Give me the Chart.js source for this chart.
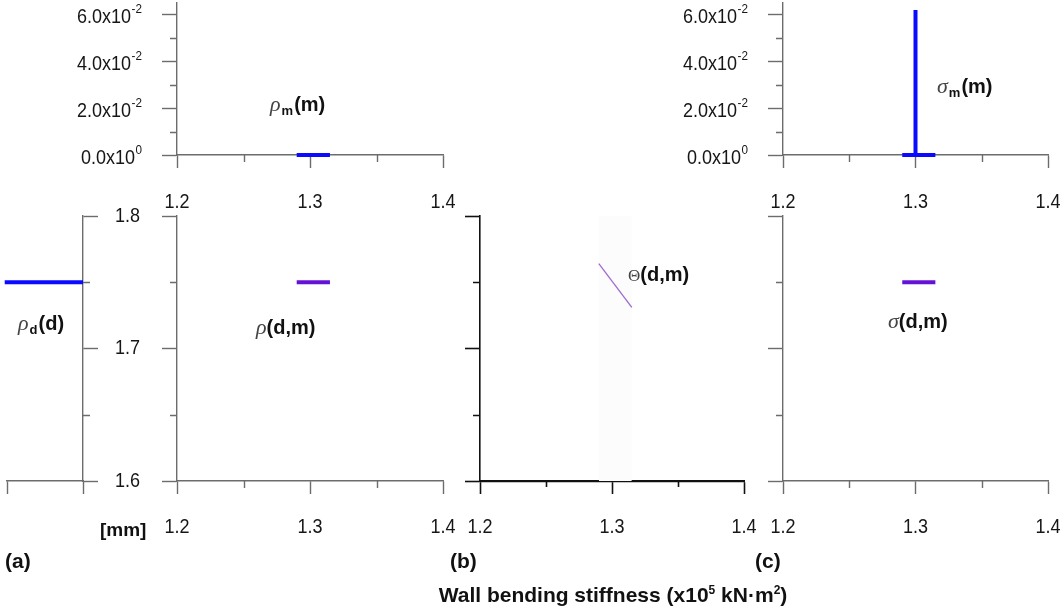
<!DOCTYPE html>
<html>
<head>
<meta charset="utf-8">
<script src="https://cdn.jsdelivr.net/npm/chart.js@4.4.1/dist/chart.umd.min.js"></script>
<style>
  html, body { margin: 0; padding: 0; background: #fff; }
  #fig { position: relative; width: 1064px; height: 616px; overflow: hidden;
         font-family: "Liberation Sans", Arial, sans-serif; }
  #fig canvas { position: absolute; left: 0; top: 0; }
  .lbl { position: absolute; white-space: nowrap; font-weight: bold; font-size: 20px;
         color: #111; line-height: 1; transform: translateY(-50%); }
  .gr  { font-family: "Liberation Serif", serif; font-style: italic; font-weight: normal;
         color: #444; font-size: 22px; }
  .sub { font-size: 13px; position: relative; top: 4px; margin: 0 1px; }
  .sup { font-size: 12px; position: relative; top: -8px; }
  #title { position: absolute; left: 370px; width: 486px; text-align: center; top: 594px;
           transform: translateY(-50%); font-weight: bold; font-size: 21px; color: #111; line-height: 1; }
</style>
</head>
<body>
<div id="fig">
  <div class="lbl" style="left:270px;top:104px"><span class="gr">ρ</span><span class="sub">m</span>(m)</div>
  <div class="lbl" style="left:937px;top:86px"><span class="gr">σ</span><span class="sub">m</span>(m)</div>
  <div class="lbl" style="left:18px;top:323px"><span class="gr">ρ</span><span class="sub">d</span>(d)</div>
  <div class="lbl" style="left:256px;top:327px"><span class="gr">ρ</span>(d,m)</div>
  <div class="lbl" style="left:628px;top:274px"><span class="gr" style="font-style:normal;font-size:17px">Θ</span>(d,m)</div>
  <div class="lbl" style="left:888px;top:321px"><span class="gr">σ</span>(d,m)</div>
  <div class="lbl" style="left:100px;top:529px;font-size:19px">[mm]</div>
  <div class="lbl" style="left:5px;top:560px;font-size:21px">(a)</div>
  <div class="lbl" style="left:450px;top:560px;font-size:21px">(b)</div>
  <div class="lbl" style="left:755px;top:560px;font-size:21px">(c)</div>
  <div id="title">Wall bending stiffness (x10<span class="sup">5</span> kN·m<span class="sup">2</span>)</div>
</div>
<script>
// ---------- axis ranges and ticks ----------
const mRange = [1.2, 1.4];                 // wall bending stiffness (x10^5 kN·m²)
const mTicks = [1.2, 1.3, 1.4];
const mMinorTicks = [1.25, 1.35];
const mTickLabels = ['1.2', '1.3', '1.4'];

const dRange = [1.6, 1.8];                 // thickness [mm]
const dTicks = [1.6, 1.7, 1.8];
const dMinorTicks = [1.65, 1.75];
const dTickLabels = ['1.6', '1.7', '1.8'];

const densRange = [0, 0.065];              // marginal density of m
const densTicks = [0, 0.02, 0.04, 0.06];
const densMinorTicks = [0.01, 0.03, 0.05];
const densTickMantissa = ['0.0', '2.0', '4.0', '6.0'];
const densTickExponent = ['0', '-2', '-2', '-2'];

const rhoDRange = [0, 1];                  // marginal density of d (drawn leftwards)
const rhoDTicks = [0, 1];

// ---------- series ----------
// rho_m(m)
const rhoM_m = [1.29, 1.315];
const rhoM_val = [0, 0];
// sigma_m(m)
const sigmaM_m = [1.29, 1.3, 1.3, 1.3, 1.315];
const sigmaM_val = [0, 0, 0.062, 0, 0];
// rho_d(d)
const rhoD_val = [0, 1.03];
const rhoD_d = [1.75, 1.75];
// rho(d,m)
const rho_m = [1.29, 1.315];
const rho_d = [1.75, 1.75];
// Theta(d,m) and its support band
const theta_m = [1.29, 1.315];
const theta_d = [1.764, 1.731];
const thetaBand_m = [1.29, 1.315];
const thetaBand_d = [1.8, 1.8];
// sigma(d,m)
const sigma_m = [1.29, 1.315];
const sigma_d = [1.75, 1.75];

// ---------- drawing ----------
const W = 1064, H = 616;
const GRAY = '#6c6c6c';
const BLUE = '#0a0aff';
const PURPLE = '#6412d8';
const LIGHT_PURPLE = '#a06ad0';
const TEXT = '#161616';
const FONT = '"Liberation Sans", Arial, sans-serif';
const SQUEEZE = 0.9;   // tick numbers are set slightly condensed

const pts = (xs, ys) => xs.map((x, i) => ({ x, y: ys[i] }));

function squeezedText(ctx, t, x, y, align) {
  ctx.save();
  ctx.translate(x, y);
  ctx.scale(SQUEEZE, 1);
  ctx.textAlign = align;
  ctx.fillText(t, 0, 0);
  ctx.restore();
}

// minor tick marks and tick labels, placed through the chart's scales
const figAxes = {
  id: 'figAxes',
  afterDraw(chart, args, o) {
    const ctx = chart.ctx, ca = chart.chartArea;
    const xs = chart.scales.x, ys = chart.scales.y;
    ctx.save();
    ctx.strokeStyle = o.color;
    ctx.lineWidth = o.lw;
    ctx.beginPath();
    (o.x.minor || []).forEach(v => {
      const p = Math.round(xs.getPixelForValue(v)) + 0.5;
      ctx.moveTo(p, ca.bottom); ctx.lineTo(p, ca.bottom + o.x.minorLen);
    });
    (o.y.minor || []).forEach(v => {
      const p = Math.round(ys.getPixelForValue(v)) + 0.5;
      if (o.y.position === 'right') { ctx.moveTo(ca.right, p); ctx.lineTo(ca.right + o.y.minorLen, p); }
      else { ctx.moveTo(ca.left, p); ctx.lineTo(ca.left - o.y.minorLen, p); }
    });
    ctx.stroke();

    ctx.fillStyle = TEXT;
    ctx.font = '20px ' + FONT;
    ctx.textBaseline = 'middle';
    if (o.x.labels) {
      o.x.labels.forEach((t, i) => {
        squeezedText(ctx, t, xs.getPixelForValue(o.x.major[i]), ca.bottom + o.x.labelOff, 'center');
      });
    }
    if (o.y.labels) {
      o.y.labels.forEach((t, i) => {
        squeezedText(ctx, t, ca.right + o.y.labelOff, ys.getPixelForValue(o.y.major[i]), 'left');
      });
    }
    if (o.y.mantissa) {
      o.y.mantissa.forEach((t, i) => {
        const y = ys.getPixelForValue(o.y.major[i]);
        const right = ca.left - o.y.labelOff;
        ctx.font = '13px ' + FONT;
        const we = ctx.measureText(o.y.exponent[i]).width * SQUEEZE;
        squeezedText(ctx, o.y.exponent[i], right - we, y - 5, 'left');
        ctx.font = '20px ' + FONT;
        squeezedText(ctx, t + 'x10', right - we - 0.5, y + 3, 'right');
      });
    }
    ctx.restore();
  }
};

function axisCfg(a, color, lw) {
  return {
    type: 'linear',
    position: a.position,
    min: a.min, max: a.max,
    reverse: !!a.reverse,
    afterBuildTicks: s => { s.ticks = a.major.map(v => ({ value: v })); },
    afterFit: s => { if (s.isHorizontal()) s.height = a.tickLen; else s.width = a.tickLen; },
    border: { display: true, color, width: a.borderWidth || lw },
    grid: { display: true, drawOnChartArea: false, drawTicks: true,
            tickLength: a.tickLen, tickColor: color, tickWidth: lw },
    ticks: { display: false }
  };
}

function panel(p) {
  const fig = document.getElementById('fig');
  const cv = document.createElement('canvas');
  cv.width = W; cv.height = H;
  fig.insertBefore(cv, fig.firstChild);
  const a = p.area;
  const yRight = p.y.position === 'right';
  const padding = {
    left: yRight ? a.l : a.l - p.y.tickLen,
    right: yRight ? W - a.r - p.y.tickLen : W - a.r,
    top: a.t,
    bottom: H - a.b - p.x.tickLen
  };
  return new Chart(cv, {
    type: 'line',
    data: { datasets: p.datasets },
    options: {
      responsive: false, animation: false, devicePixelRatio: 1, events: [],
      layout: { padding },
      plugins: { legend: { display: false }, tooltip: { enabled: false },
                 figAxes: { x: p.x, y: p.y, color: p.color, lw: p.lw } },
      scales: { x: axisCfg(p.x, p.color, p.lw), y: axisCfg(p.y, p.color, p.lw) }
    },
    plugins: [figAxes]
  });
}

const line = (data, color, width, extra) => Object.assign({
  data, borderColor: color, borderWidth: width, pointRadius: 0,
  fill: false, tension: 0, clip: false
}, extra || {});

const xBottom = (labels, labelOff) => ({
  position: 'bottom', min: mRange[0], max: mRange[1], major: mTicks, minor: mMinorTicks,
  tickLen: 13, minorLen: 7, labels, labelOff
});
const yDepthLeft = () => ({
  position: 'left', min: dRange[0], max: dRange[1], major: dTicks, minor: dMinorTicks,
  tickLen: 15, minorLen: 7
});
const yDensity = () => ({
  position: 'left', min: densRange[0], max: densRange[1], major: densTicks, minor: densMinorTicks,
  tickLen: 15, minorLen: 7, mantissa: densTickMantissa, exponent: densTickExponent, labelOff: 35
});

// rho_m(m)
panel({
  area: { l: 177, r: 443, t: 3, b: 155 }, color: GRAY, lw: 1.4,
  x: xBottom(mTickLabels, 47), y: yDensity(),
  datasets: [line(pts(rhoM_m, rhoM_val), BLUE, 4)]
});

// sigma_m(m)
panel({
  area: { l: 783, r: 1048, t: 3, b: 155 }, color: GRAY, lw: 1.4,
  x: xBottom(mTickLabels, 47), y: yDensity(),
  datasets: [line(pts(sigmaM_m, sigmaM_val), BLUE, 4)]
});

// rho_d(d)
panel({
  area: { l: 7, r: 83, t: 216, b: 481 }, color: GRAY, lw: 1.4,
  x: { position: 'bottom', min: rhoDRange[0], max: rhoDRange[1], reverse: true,
       major: rhoDTicks, tickLen: 13 },
  y: { position: 'right', min: dRange[0], max: dRange[1], major: dTicks, minor: dMinorTicks,
       tickLen: 15, minorLen: 7, labels: dTickLabels, labelOff: 32 },
  datasets: [line(pts(rhoD_val, rhoD_d), BLUE, 4)]
});

// rho(d,m)
panel({
  area: { l: 177, r: 443, t: 216, b: 481 }, color: GRAY, lw: 1.4,
  x: xBottom(mTickLabels, 46), y: yDepthLeft(),
  datasets: [line(pts(rho_m, rho_d), PURPLE, 4)]
});

// Theta(d,m)
panel({
  area: { l: 480, r: 744, t: 216, b: 481 }, color: '#111', lw: 1.6,
  x: Object.assign(xBottom(mTickLabels, 46), { borderWidth: 2.2, minorLen: 6 }), y: yDepthLeft(),
  datasets: [
    line(pts(theta_m, theta_d), LIGHT_PURPLE, 1.3, { order: 1 }),
    line(pts(thetaBand_m, thetaBand_d), 'rgba(0,0,0,0)', 0,
         { fill: 'start', backgroundColor: '#fcfcfc', order: 2 })
  ]
});

// sigma(d,m)
panel({
  area: { l: 783, r: 1048, t: 216, b: 481 }, color: GRAY, lw: 1.4,
  x: xBottom(mTickLabels, 46), y: yDepthLeft(),
  datasets: [line(pts(sigma_m, sigma_d), PURPLE, 4)]
});
</script>
</body>
</html>
